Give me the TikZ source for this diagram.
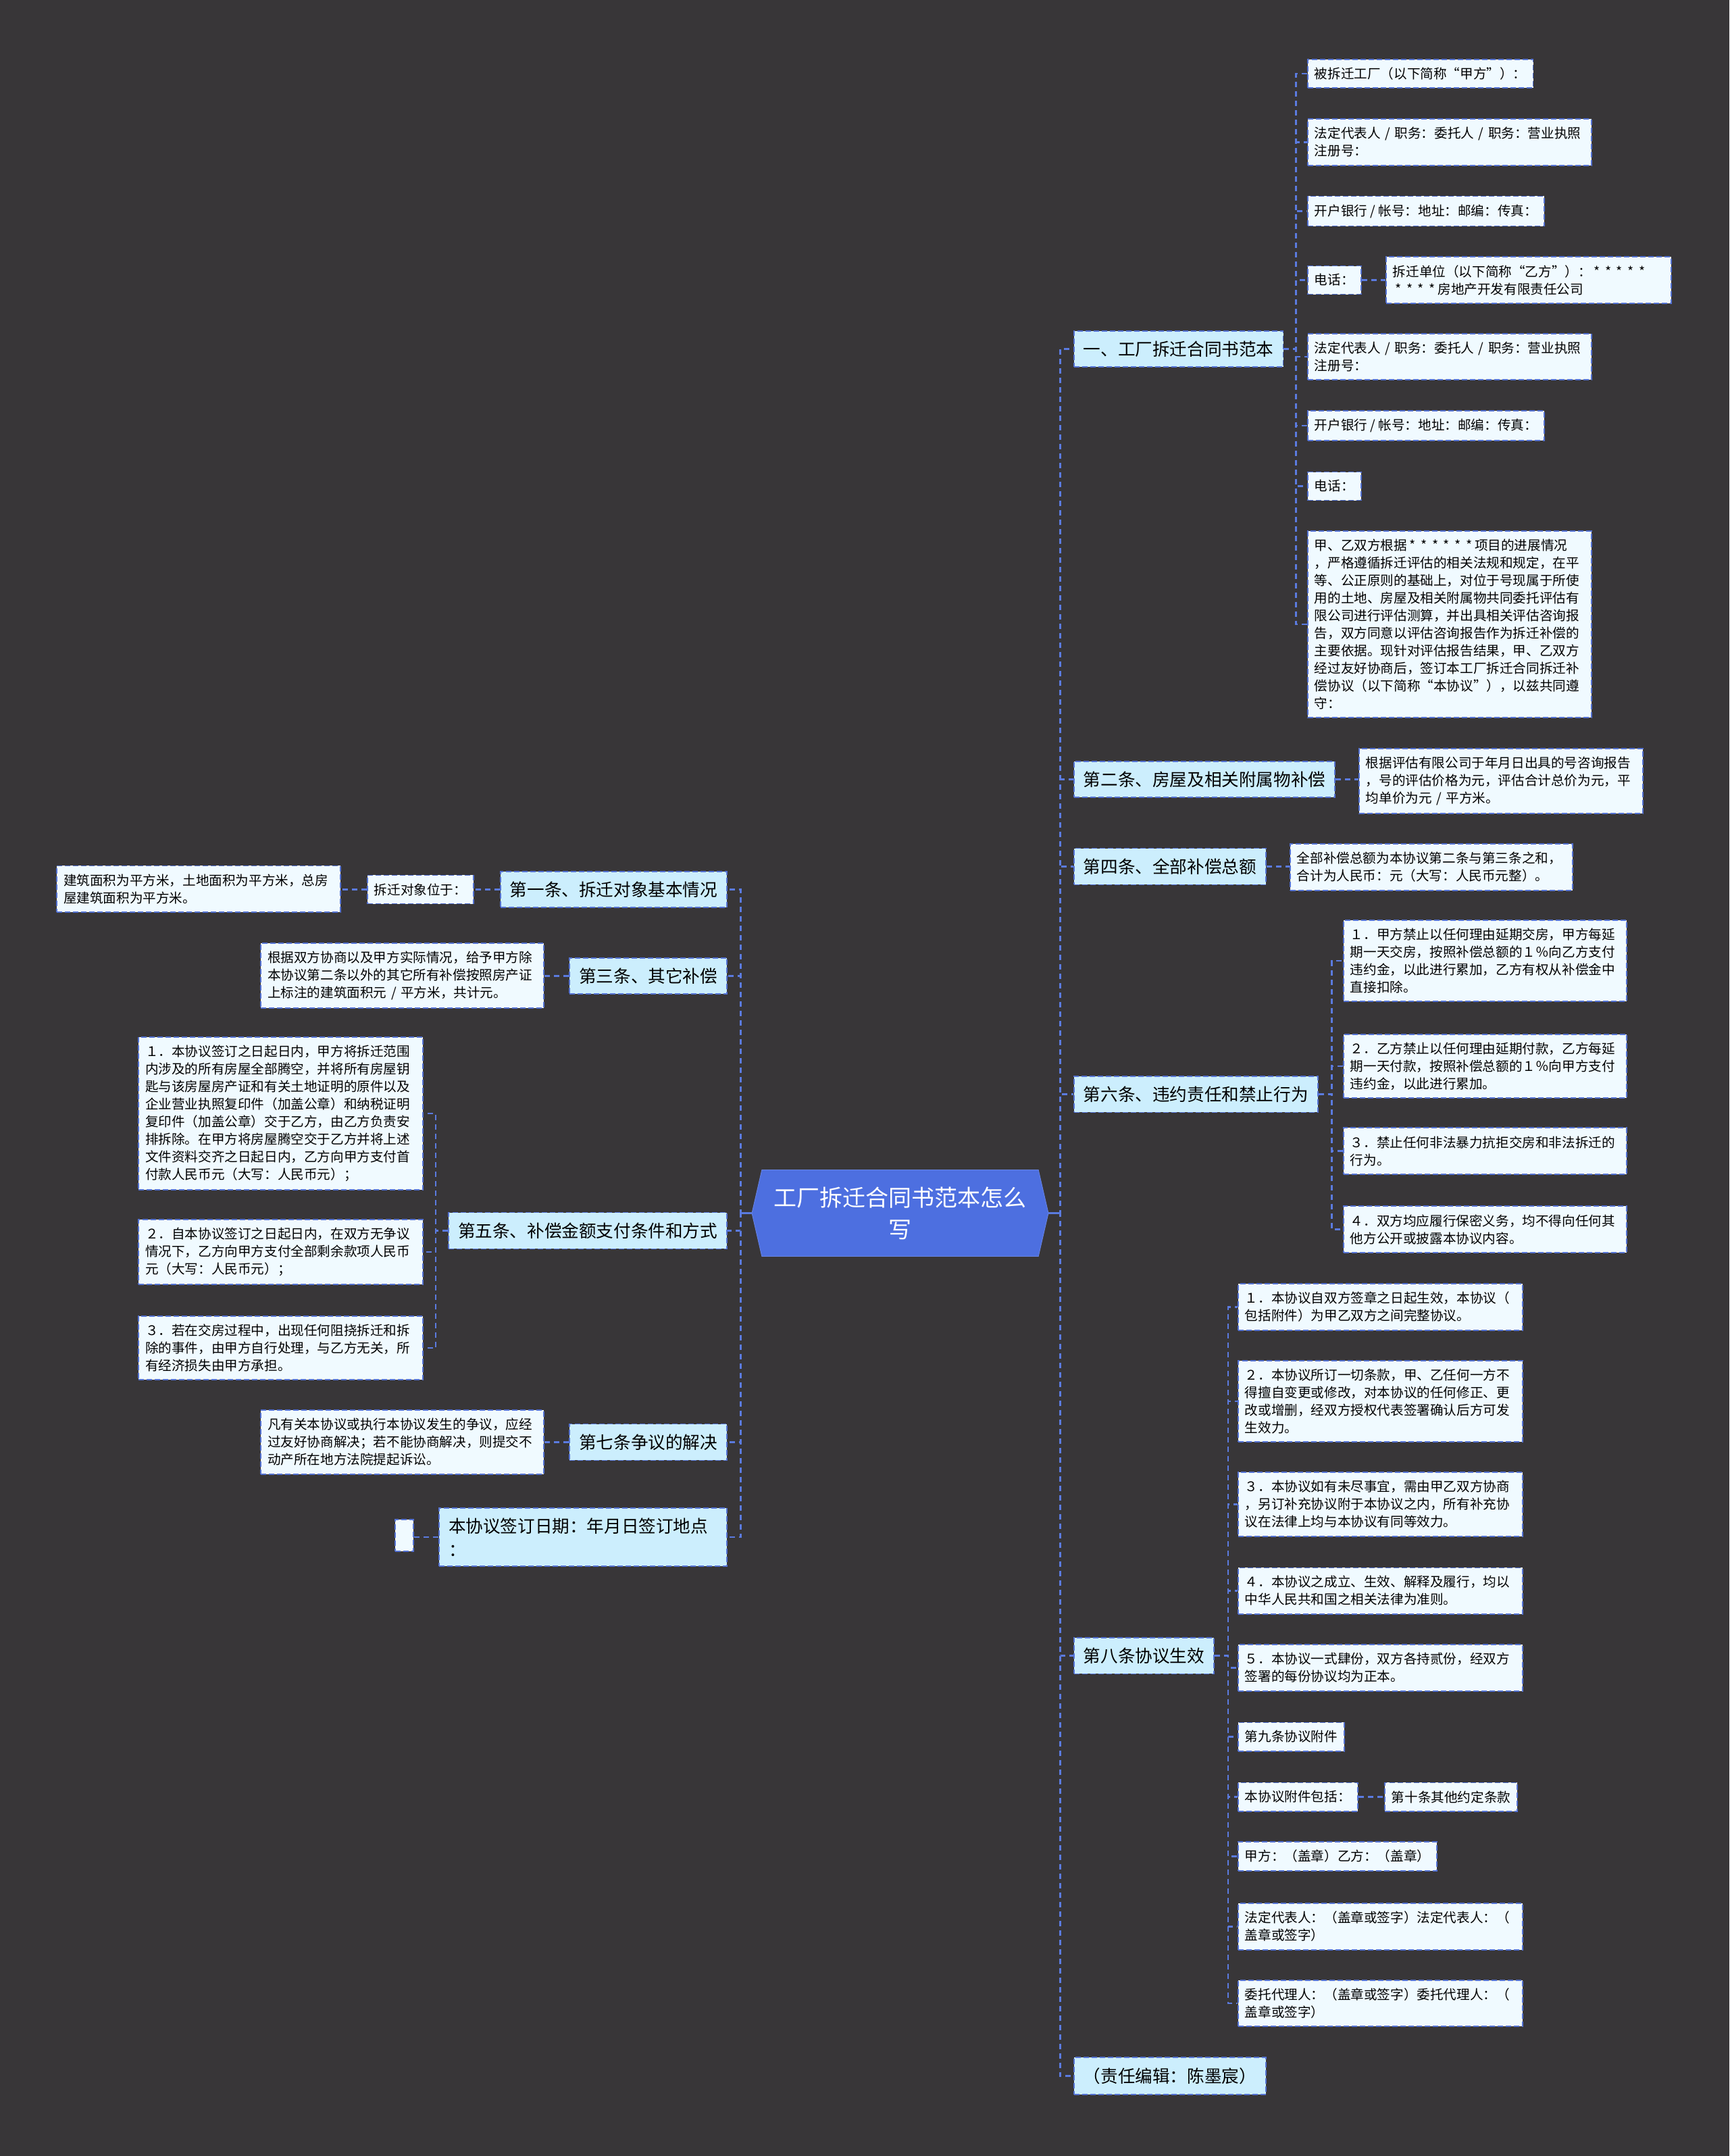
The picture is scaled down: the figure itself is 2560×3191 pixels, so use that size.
\documentclass[tikz,border=0pt]{standalone}
\usepackage{fontspec}
\setmainfont{Noto Sans CJK SC}
\usepackage{tikz}
\usetikzlibrary{shapes.symbols}
\usepackage{xcolor}
\definecolor{fundo}{HTML}{383638}
\definecolor{linha}{HTML}{5B7BE0}
\definecolor{borda}{HTML}{5472D3}
\definecolor{azul}{HTML}{4D6FE0}
\definecolor{ramofill}{HTML}{CCEEFD}
\definecolor{folhafill}{HTML}{F0FAFF}
\newcommand{\estrela}{\makebox[0.85em]{*}}

\begin{document}
\begin{tikzpicture}[x=0.5pt, y=-0.5pt,
        central/.style={signal, signal to=east and west, signal pointer angle=154, fill=azul, draw=azul!85!white, minimum width=219.5pt, minimum height=64pt, inner sep=0pt, text=white, align=center, font=\fontsize{17pt}{23.5pt}\selectfont},
        ramo/.style={draw=borda, line width=0.9pt, dash pattern=on 4pt off 2pt, fill=ramofill, inner xsep=7pt, inner ysep=7.5pt, align=left, font=\fontsize{12.8pt}{17.5pt}\selectfont},
        folha/.style={draw=borda, line width=0.9pt, dash pattern=on 4pt off 2pt, fill=folhafill, inner xsep=5pt, inner ysep=6pt, align=left, font=\fontsize{9.8pt}{13pt}\selectfont},
        link/.style={draw=linha, line width=1.2pt, dash pattern=on 4pt off 3pt},
        tronco/.style={draw=linha, line width=1.6pt}
    ]
    \useasboundingbox (0,0) rectangle (2560,3191);
    \fill[fundo] (0,0) rectangle (2560,3191);
    % Centro
    \node[central] (centro) at (1332.5,1795.5) {工厂拆迁合同书范本怎么\\写};
    % Direita
    \node[ramo, anchor=west] (sec1) at (1589,516.5) {一、工厂拆迁合同书范本};
    \node[folha, anchor=west] (p1) at (1935,109) {被拆迁工厂（以下简称“甲方”）：};
    \node[folha, anchor=west, text width=200pt] (p2) at (1935,210.5) {法定代表人 / 职务：委托人 / 职务：营业执照\\注册号：};
    \node[folha, anchor=west] (p3) at (1935,312.5) {开户银行 / 帐号：地址：邮编：传真：};
    \node[folha, anchor=west] (p4) at (1935,414.5) {电话：};
    \node[folha, anchor=west, text width=201pt] (p4b) at (2051,414.5) {拆迁单位（以下简称“乙方”）：\estrela\estrela\estrela\estrela\estrela\\\estrela\estrela\estrela\estrela 房地产开发有限责任公司};
    \node[folha, anchor=west, text width=200pt] (p5) at (1935,528) {法定代表人 / 职务：委托人 / 职务：营业执照\\注册号：};
    \node[folha, anchor=west] (p6) at (1935,630) {开户银行 / 帐号：地址：邮编：传真：};
    \node[folha, anchor=west] (p7) at (1935,719.5) {电话：};
    \node[folha, anchor=west, text width=200pt] (p8) at (1935,924) {甲、乙双方根据\estrela\estrela\estrela\estrela\estrela\estrela 项目的进展情况\\，严格遵循拆迁评估的相关法规和规定，在平\\等、公正原则的基础上，对位于号现属于所使\\用的土地、房屋及相关附属物共同委托评估有\\限公司进行评估测算，并出具相关评估咨询报\\告，双方同意以评估咨询报告作为拆迁补偿的\\主要依据。现针对评估报告结果，甲、乙双方\\经过友好协商后，签订本工厂拆迁合同拆迁补\\偿协议（以下简称“本协议”），以兹共同遵\\守：};
    \node[ramo, anchor=west] (art2) at (1589,1153.5) {第二条、房屋及相关附属物补偿};
    \node[folha, anchor=west, text width=200pt] (art2t) at (2011,1156) {根据评估有限公司于年月日出具的号咨询报告\\，号的评估价格为元，评估合计总价为元，平\\均单价为元 / 平方米。};
    \node[ramo, anchor=west] (art4) at (1589,1282.5) {第四条、全部补偿总额};
    \node[folha, anchor=west, text width=199pt] (art4t) at (1909,1283.5) {全部补偿总额为本协议第二条与第三条之和，\\合计为人民币：元（大写：人民币元整）。};
    \node[ramo, anchor=west] (art6) at (1589,1619.5) {第六条、违约责任和禁止行为};
    \node[folha, anchor=west, text width=199.5pt] (art6a) at (1988,1422) {１．甲方禁止以任何理由延期交房，甲方每延\\期一天交房，按照补偿总额的１％向乙方支付\\违约金，以此进行累加，乙方有权从补偿金中\\直接扣除。};
    \node[folha, anchor=west, text width=199.5pt] (art6b) at (1988,1578) {２．乙方禁止以任何理由延期付款，乙方每延\\期一天付款，按照补偿总额的１％向甲方支付\\违约金，以此进行累加。};
    \node[folha, anchor=west, text width=199.5pt] (art6c) at (1988,1703.5) {３．禁止任何非法暴力抗拒交房和非法拆迁的\\行为。};
    \node[folha, anchor=west, text width=199.5pt] (art6d) at (1988,1819.5) {４．双方均应履行保密义务，均不得向任何其\\他方公开或披露本协议内容。};
    \node[ramo, anchor=west] (art8) at (1589,2450.5) {第八条协议生效};
    \node[folha, anchor=west, text width=200.5pt] (art8a) at (1832,1934.5) {１．本协议自双方签章之日起生效，本协议（\\包括附件）为甲乙双方之间完整协议。};
    \node[folha, anchor=west, text width=200.5pt] (art8b) at (1832,2074) {２．本协议所订一切条款，甲、乙任何一方不\\得擅自变更或修改，对本协议的任何修正、更\\改或增删，经双方授权代表签署确认后方可发\\生效力。};
    \node[folha, anchor=west, text width=200.5pt] (art8c) at (1832,2226.5) {３．本协议如有未尽事宜，需由甲乙双方协商\\，另订补充协议附于本协议之内，所有补充协\\议在法律上均与本协议有同等效力。};
    \node[folha, anchor=west, text width=200.5pt] (art8d) at (1832,2354.5) {４．本协议之成立、生效、解释及履行，均以\\中华人民共和国之相关法律为准则。};
    \node[folha, anchor=west, text width=200.5pt] (art8e) at (1832,2468.5) {５．本协议一式肆份，双方各持贰份，经双方\\签署的每份协议均为正本。};
    \node[folha, anchor=west] (art9) at (1832,2570.5) {第九条协议附件};
    \node[folha, anchor=west] (anexo) at (1832,2659.5) {本协议附件包括：};
    \node[folha, anchor=west] (art10) at (2049,2659.5) {第十条其他约定条款};
    \node[folha, anchor=west] (assin) at (1832,2747.5) {甲方：（盖章）乙方：（盖章）};
    \node[folha, anchor=west, text width=200.5pt] (repr) at (1832,2851.5) {法定代表人：（盖章或签字）法定代表人：（\\盖章或签字）};
    \node[folha, anchor=west, text width=200.5pt] (proc) at (1832,2965) {委托代理人：（盖章或签字）委托代理人：（\\盖章或签字）};
    \node[ramo, anchor=west] (editor) at (1589,3072.5) {（责任编辑：陈墨宸）};
    % Esquerda
    \node[ramo, anchor=east] (art1) at (1077,1316.5) {第一条、拆迁对象基本情况};
    \node[folha, anchor=east] (art1a) at (702,1316.5) {拆迁对象位于：};
    \node[folha, anchor=east, text width=200pt] (art1b) at (505,1315.5) {建筑面积为平方米，土地面积为平方米，总房\\屋建筑面积为平方米。};
    \node[ramo, anchor=east] (art3) at (1077,1444.5) {第三条、其它补偿};
    \node[folha, anchor=east, text width=199.5pt] (art3t) at (806,1444) {根据双方协商以及甲方实际情况，给予甲方除\\本协议第二条以外的其它所有补偿按照房产证\\上标注的建筑面积元 / 平方米，共计元。};
    \node[ramo, anchor=east] (art5) at (1077,1821.5) {第五条、补偿金额支付条件和方式};
    \node[folha, anchor=east, text width=200.5pt] (art5a) at (627,1648) {１．本协议签订之日起日内，甲方将拆迁范围\\内涉及的所有房屋全部腾空，并将所有房屋钥\\匙与该房屋房产证和有关土地证明的原件以及\\企业营业执照复印件（加盖公章）和纳税证明\\复印件（加盖公章）交于乙方，由乙方负责安\\排拆除。在甲方将房屋腾空交于乙方并将上述\\文件资料交齐之日起日内，乙方向甲方支付首\\付款人民币元（大写：人民币元）；};
    \node[folha, anchor=east, text width=200.5pt] (art5b) at (627,1853) {２．自本协议签订之日起日内，在双方无争议\\情况下，乙方向甲方支付全部剩余款项人民币\\元（大写：人民币元）；};
    \node[folha, anchor=east, text width=200.5pt] (art5c) at (627,1995) {３．若在交房过程中，出现任何阻挠拆迁和拆\\除的事件，由甲方自行处理，与乙方无关，所\\有经济损失由甲方承担。};
    \node[ramo, anchor=east] (art7) at (1077,2134.5) {第七条争议的解决};
    \node[folha, anchor=east, text width=199.5pt] (art7t) at (806,2134.5) {凡有关本协议或执行本协议发生的争议，应经\\过友好协商解决；若不能协商解决，则提交不\\动产所在地方法院提起诉讼。};
    \node[ramo, anchor=east, text width=199pt] (data) at (1077,2275) {本协议签订日期：年月日签订地点\\：};
    \node[folha, anchor=east, minimum width=13.5pt, minimum height=23.5pt] (datab) at (613,2272.5) {};
    % Conexoes
    \draw[tronco] (centro.east) -- ++(17,0);
    \draw[tronco] (centro.west) -- ++(-16,0);
    \draw[link] (centro.east) -- ++(17,0) |- (sec1.west);
    \draw[link] (centro.east) -- ++(17,0) |- (art2.west);
    \draw[link] (centro.east) -- ++(17,0) |- (art4.west);
    \draw[link] (centro.east) -- ++(17,0) |- (art6.west);
    \draw[link] (centro.east) -- ++(17,0) |- (art8.west);
    \draw[link] (centro.east) -- ++(17,0) |- (editor.west);
    \draw[link] (centro.west) -- ++(-16,0) |- (art1.east);
    \draw[link] (centro.west) -- ++(-16,0) |- (art3.east);
    \draw[link] (centro.west) -- ++(-16,0) |- (art5.east);
    \draw[link] (centro.west) -- ++(-16,0) |- (art7.east);
    \draw[link] (centro.west) -- ++(-16,0) |- (data.east);
    \draw[link] (sec1.east) -- ++(18,0) |- (p1.west);
    \draw[link] (sec1.east) -- ++(18,0) |- (p2.west);
    \draw[link] (sec1.east) -- ++(18,0) |- (p3.west);
    \draw[link] (sec1.east) -- ++(18,0) |- (p4.west);
    \draw[link] (sec1.east) -- ++(18,0) |- (p5.west);
    \draw[link] (sec1.east) -- ++(18,0) |- (p6.west);
    \draw[link] (sec1.east) -- ++(18,0) |- (p7.west);
    \draw[link] (sec1.east) -- ++(18,0) |- (p8.west);
    \draw[link] (p4.east) -- (p4.east -| p4b.west);
    \draw[link] (art2.east) -- (art2.east -| art2t.west);
    \draw[link] (art4.east) -- (art4.east -| art4t.west);
    \draw[link] (art6.east) -- ++(20,0) |- (art6a.west);
    \draw[link] (art6.east) -- ++(20,0) |- (art6b.west);
    \draw[link] (art6.east) -- ++(20,0) |- (art6c.west);
    \draw[link] (art6.east) -- ++(20,0) |- (art6d.west);
    \draw[link] (art8.east) -- ++(20,0) |- (art8a.west);
    \draw[link] (art8.east) -- ++(20,0) |- (art8b.west);
    \draw[link] (art8.east) -- ++(20,0) |- (art8c.west);
    \draw[link] (art8.east) -- ++(20,0) |- (art8d.west);
    \draw[link] (art8.east) -- ++(20,0) |- (art8e.west);
    \draw[link] (art8.east) -- ++(20,0) |- (art9.west);
    \draw[link] (art8.east) -- ++(20,0) |- (anexo.west);
    \draw[link] (art8.east) -- ++(20,0) |- (assin.west);
    \draw[link] (art8.east) -- ++(20,0) |- (repr.west);
    \draw[link] (art8.east) -- ++(20,0) |- (proc.west);
    \draw[link] (anexo.east) -- (anexo.east -| art10.west);
    \draw[link] (art1.west) -- (art1.west -| art1a.east);
    \draw[link] (art1a.west) -- (art1a.west -| art1b.east);
    \draw[link] (art3.west) -- (art3.west -| art3t.east);
    \draw[link] (art5.west) -- ++(-18,0) |- (art5a.east);
    \draw[link] (art5.west) -- ++(-18,0) |- (art5b.east);
    \draw[link] (art5.west) -- ++(-18,0) |- (art5c.east);
    \draw[link] (art7.west) -- (art7.west -| art7t.east);
    \draw[link] (data.west) -- (data.west -| datab.east);
\end{tikzpicture}
\end{document}
